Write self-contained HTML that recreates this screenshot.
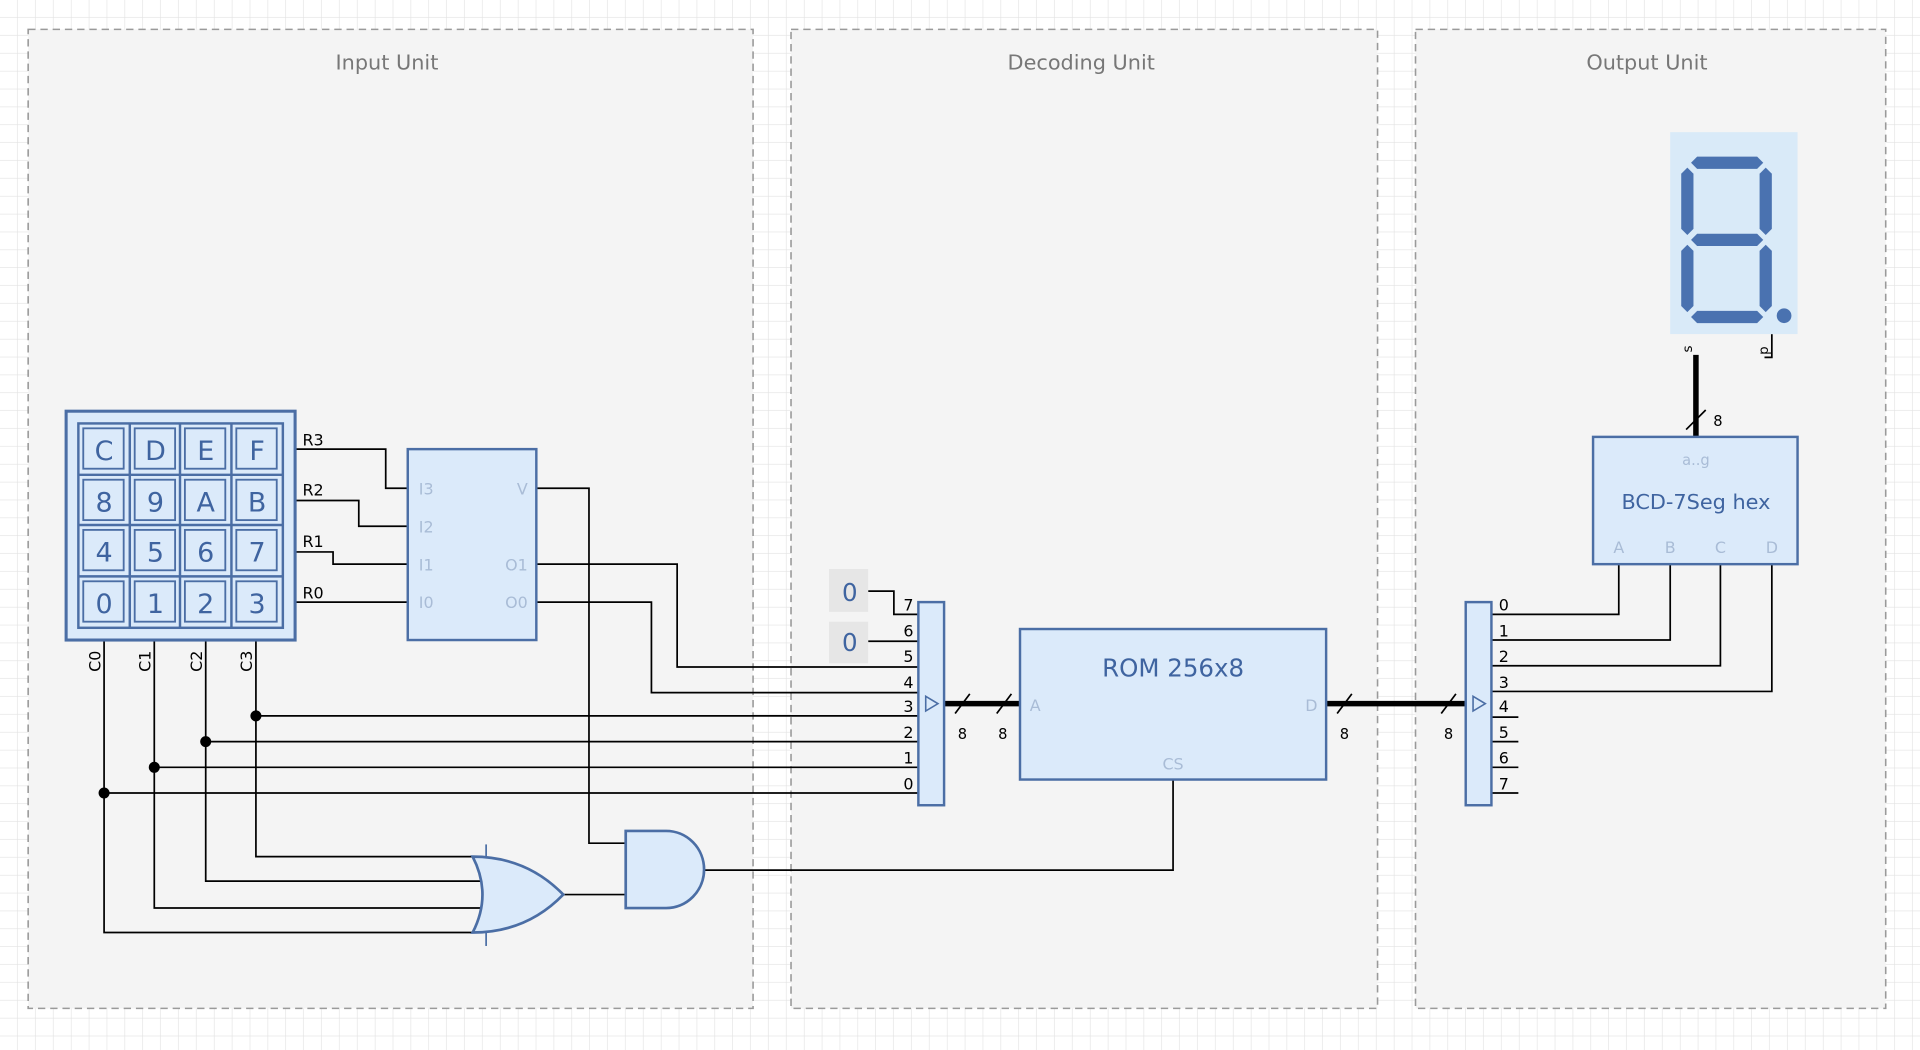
<!DOCTYPE html>
<html><head><meta charset="utf-8"><style>
html,body{margin:0;padding:0;background:#fff;}
svg{display:block;}
text{font-family:"DejaVu Sans","Liberation Sans",sans-serif;}
</style></head><body>
<svg width="1920" height="1050" viewBox="0 0 1568 858" preserveAspectRatio="none" xmlns="http://www.w3.org/2000/svg">
<defs>
<pattern id="g" width="14.6" height="14.6" patternUnits="userSpaceOnUse">
<path d="M14.6 0V14.6H0" fill="none" stroke="#e2e2e2" stroke-width="1"/>
</pattern>
</defs>
<rect width="1568" height="858" fill="#fff"/>
<rect width="1568" height="858" fill="url(#g)"/>
<g fill="#f4f4f4" stroke="#9a9a9a" stroke-dasharray="6,4" stroke-width="1.3">
<rect x="23" y="24" width="592" height="800"/>
<rect x="646" y="24" width="479" height="800"/>
<rect x="1156" y="24" width="384" height="800"/>
</g>
<g fill="#777" font-size="17" text-anchor="middle">
<text x="316" y="57">Input Unit</text>
<text x="883" y="57">Decoding Unit</text>
<text x="1345" y="57">Output Unit</text>
</g>

<!-- wires -->
<g fill="none" stroke="#000" stroke-width="1.4">
<path d="M241 367H315V399H333"/>
<path d="M241 409H293V430H333"/>
<path d="M241 451H272V461H333"/>
<path d="M241 492H333"/>
<path d="M438 399H481V689H511"/>
<path d="M438 461H553V545H750"/>
<path d="M438 492H532V566H750"/>
<path d="M709 483H730V502H750"/>
<path d="M709 524H750"/>
<path d="M209 523V700H390M209 585H750"/>
<path d="M168 523V720H395M168 606H750"/>
<path d="M126 523V742H395M126 627H750"/>
<path d="M85 523V762H390M85 648H750"/>
<path d="M459 731H511"/>
<path d="M574 711H958V637"/>
<path d="M1322 461V502H1218"/>
<path d="M1364 461V523H1218"/>
<path d="M1405 461V544H1218"/>
<path d="M1447 461V565H1218"/>
<path d="M1218 586H1240M1218 606H1240M1218 627H1240M1218 648H1240"/>
<path d="M1447 273V292H1441"/>
<path d="M397 690V773" stroke="#4b6ea5"/>
</g>
<g fill="#000"><circle cx="209" cy="585" r="4.5"/><circle cx="168" cy="606" r="4.5"/><circle cx="126" cy="627" r="4.5"/><circle cx="85" cy="648" r="4.5"/></g>
<!-- buses -->
<g stroke="#000" stroke-width="4.5" fill="none">
<path d="M771 575H833M1083 575H1197M1385 357V290"/>
</g>
<g stroke="#000" stroke-width="1.4"><path d="M780 583L792 567M814 583L826 567M1092 583L1104 567M1177 583L1189 567M1377 351L1393 335"/></g>
<g font-size="12" fill="#000" text-anchor="middle">
<text x="786" y="604">8</text><text x="819" y="604">8</text><text x="1098" y="604">8</text><text x="1183" y="604">8</text>
<text x="1403" y="348">8</text>
</g>

<!-- keypad -->
<rect x="54" y="336" width="187" height="187" fill="#dbeafa" stroke="#4b6ea5" stroke-width="2.5"/>
<rect x="64" y="346" width="167" height="167" fill="#dbeafa" stroke="#4b6ea5" stroke-width="2"/>
<g stroke="#4b6ea5" stroke-width="2"><path d="M106 346V513M147 346V513M189 346V513M64 388H231M64 429H231M64 471H231"/></g>
<g fill="none" stroke="#4b6ea5" stroke-width="1.5">
<rect x="68" y="350" width="33" height="33"/><rect x="110" y="350" width="33" height="33"/><rect x="151" y="350" width="33" height="33"/><rect x="193" y="350" width="33" height="33"/>
<rect x="68" y="392" width="33" height="33"/><rect x="110" y="392" width="33" height="33"/><rect x="151" y="392" width="33" height="33"/><rect x="193" y="392" width="33" height="33"/>
<rect x="68" y="433" width="33" height="33"/><rect x="110" y="433" width="33" height="33"/><rect x="151" y="433" width="33" height="33"/><rect x="193" y="433" width="33" height="33"/>
<rect x="68" y="475" width="33" height="33"/><rect x="110" y="475" width="33" height="33"/><rect x="151" y="475" width="33" height="33"/><rect x="193" y="475" width="33" height="33"/>
</g>
<g fill="#3f64a0" font-size="22" text-anchor="middle">
<text x="85" y="376">C</text><text x="127" y="376">D</text><text x="168" y="376">E</text><text x="210" y="376">F</text>
<text x="85" y="418">8</text><text x="127" y="418">9</text><text x="168" y="418">A</text><text x="210" y="418">B</text>
<text x="85" y="459">4</text><text x="127" y="459">5</text><text x="168" y="459">6</text><text x="210" y="459">7</text>
<text x="85" y="501">0</text><text x="127" y="501">1</text><text x="168" y="501">2</text><text x="210" y="501">3</text>
</g>
<g font-size="13" fill="#000">
<text x="247" y="364">R3</text><text x="247" y="405">R2</text><text x="247" y="447">R1</text><text x="247" y="489">R0</text>
<text transform="translate(82,549) rotate(-90)">C0</text>
<text transform="translate(123,549) rotate(-90)">C1</text>
<text transform="translate(165,549) rotate(-90)">C2</text>
<text transform="translate(206,549) rotate(-90)">C3</text>
</g>

<!-- encoder -->
<rect x="333" y="367" width="105" height="156" fill="#dbeafa" stroke="#4b6ea5" stroke-width="2"/>
<g fill="#a9bcd6" font-size="13">
<text x="342" y="404">I3</text><text x="342" y="435">I2</text><text x="342" y="466">I1</text><text x="342" y="497">I0</text>
<text x="431" y="404" text-anchor="end">V</text><text x="431" y="466" text-anchor="end">O1</text><text x="431" y="497" text-anchor="end">O0</text>
</g>

<!-- OR gate -->
<path d="M386 700Q430 700 460 731Q430 762 386 762Q402 731 386 700Z" fill="#dbeafa" stroke="#4b6ea5" stroke-width="2.2"/>
<!-- AND gate -->
<path d="M511 679H544A31 31.5 0 0 1 544 742H511Z" fill="#dbeafa" stroke="#4b6ea5" stroke-width="2.2"/>

<!-- constants -->
<rect x="677" y="465" width="32" height="35" fill="#e6e6e6"/>
<rect x="677" y="508" width="32" height="34" fill="#e6e6e6"/>
<g fill="#3f64a0" font-size="20" text-anchor="middle"><text x="694" y="491">0</text><text x="694" y="532">0</text></g>

<!-- left splitter -->
<rect x="750" y="492" width="21" height="166" fill="#dbeafa" stroke="#4b6ea5" stroke-width="2"/>
<path d="M756 569L766 575L756 581Z" fill="none" stroke="#4b6ea5" stroke-width="1.3"/>
<g font-size="13" fill="#000" text-anchor="end">
<text x="746" y="499">7</text><text x="746" y="520">6</text><text x="746" y="541">5</text><text x="746" y="562">4</text>
<text x="746" y="582">3</text><text x="746" y="603">2</text><text x="746" y="624">1</text><text x="746" y="645">0</text>
</g>

<!-- ROM -->
<rect x="833" y="514" width="250" height="123" fill="#dbeafa" stroke="#4b6ea5" stroke-width="2"/>
<text x="958" y="553" text-anchor="middle" font-size="20" fill="#3f64a0">ROM 256x8</text>
<g fill="#a9bcd6" font-size="13"><text x="841" y="581">A</text><text x="1076" y="581" text-anchor="end">D</text><text x="958" y="629" text-anchor="middle">CS</text></g>

<!-- right splitter -->
<rect x="1197" y="492" width="21" height="166" fill="#dbeafa" stroke="#4b6ea5" stroke-width="2"/>
<path d="M1203 569L1213 575L1203 581Z" fill="none" stroke="#4b6ea5" stroke-width="1.3"/>
<g font-size="13" fill="#000">
<text x="1224" y="499">0</text><text x="1224" y="520">1</text><text x="1224" y="541">2</text><text x="1224" y="562">3</text>
<text x="1224" y="582">4</text><text x="1224" y="603">5</text><text x="1224" y="624">6</text><text x="1224" y="645">7</text>
</g>

<!-- BCD -->
<rect x="1301" y="357" width="167" height="104" fill="#dbeafa" stroke="#4b6ea5" stroke-width="2"/>
<text x="1385" y="380" text-anchor="middle" font-size="12" fill="#a9bcd6">a..g</text>
<text x="1385" y="416" text-anchor="middle" font-size="17" fill="#3f64a0">BCD-7Seg hex</text>
<g fill="#a9bcd6" font-size="13" text-anchor="middle"><text x="1322" y="452">A</text><text x="1364" y="452">B</text><text x="1405" y="452">C</text><text x="1447" y="452">D</text></g>

<!-- 7seg -->
<rect x="1364" y="108" width="104" height="165" fill="#d9eaf8"/>
<g fill="#4a72b0">
<polygon points="1386,128 1435,128 1440,133 1435,138 1386,138 1381,133"/>
<polygon points="1386,191 1435,191 1440,196 1435,201 1386,201 1381,196"/>
<polygon points="1386,254 1435,254 1440,259 1435,264 1386,264 1381,259"/>
<polygon points="1378,137 1383,142 1383,187 1378,192 1373,187 1373,142"/>
<polygon points="1442,137 1447,142 1447,187 1442,192 1437,187 1437,142"/>
<polygon points="1378,200 1383,205 1383,250 1378,255 1373,250 1373,205"/>
<polygon points="1442,200 1447,205 1447,250 1442,255 1437,250 1437,205"/>
<circle cx="1457" cy="258" r="6"/>
</g>
<g font-size="11" fill="#000"><text transform="translate(1382,288) rotate(-90)">s</text><text transform="translate(1444,290) rotate(-90)">p</text></g>
</svg>
</body></html>
